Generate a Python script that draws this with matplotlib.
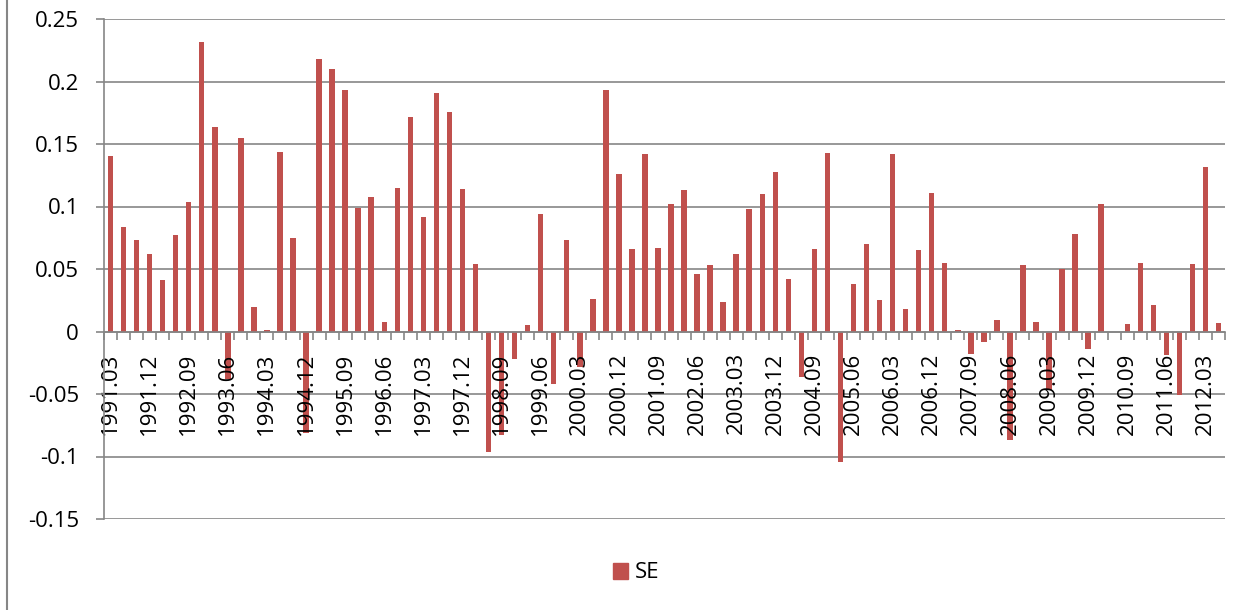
import matplotlib
matplotlib.use("Agg")
import matplotlib.pyplot as plt
import matplotlib.patches as mpatches
from matplotlib.lines import Line2D
import numpy as np

plt.rcParams["font.family"] = ["Open Sans", "DejaVu Sans"]

# quarterly periods 1991.03 .. 2012.06
years = list(range(1991, 2013))
months = ["03", "06", "09", "12"]
periods = [f"{y}.{m}" for y in years for m in months][:86]

se = [
    0.140, 0.084, 0.073, 0.062,    # 1991
    0.041, 0.077, 0.104, 0.232,    # 1992
    0.164, -0.038, 0.155, 0.020,   # 1993
    0.001, 0.144, 0.075, -0.081,   # 1994
    0.218, 0.210, 0.193, 0.099,    # 1995
    0.108, 0.008, 0.115, 0.172,    # 1996
    0.092, 0.191, 0.176, 0.114,    # 1997
    0.054, -0.096, -0.083, -0.022, # 1998
    0.005, 0.094, -0.042, 0.073,   # 1999
    -0.028, 0.026, 0.193, 0.126,   # 2000
    0.066, 0.142, 0.067, 0.102,    # 2001
    0.113, 0.046, 0.053, 0.024,    # 2002
    0.062, 0.098, 0.110, 0.128,    # 2003
    0.042, -0.036, 0.066, 0.143,   # 2004
    -0.104, 0.038, 0.070, 0.025,   # 2005
    0.142, 0.018, 0.065, 0.111,    # 2006
    0.055, 0.001, -0.018, -0.008,  # 2007
    0.009, -0.087, 0.053, 0.008,   # 2008
    -0.047, 0.050, 0.078, -0.014,  # 2009
    0.102, 0.000, 0.006, 0.055,    # 2010
    0.021, -0.019, -0.051, 0.054,  # 2011
    0.132, 0.007,                  # 2012
]

y_ticks = [-0.15, -0.1, -0.05, 0, 0.05, 0.1, 0.15, 0.2, 0.25]
y_labels = ["-0.15", "-0.1", "-0.05", "0", "0.05", "0.1", "0.15", "0.2", "0.25"]

BAR = "#C0504D"
GRID = "#868686"

W, H = 1252, 610
fig = plt.figure(figsize=(W / 100, H / 100), dpi=100)
fig.patch.set_facecolor("white")
ax = fig.add_axes([104 / W, 1 - 519 / H, (1225 - 104) / W, (519 - 19) / H])

x = np.arange(len(se))
ax.bar(x, se, width=0.42, color=BAR, zorder=1)

# gridlines behind bars
for v in y_ticks:
    ax.axhline(v, color=GRID, linewidth=1.2, zorder=0.5)

ax.set_xlim(-0.5, len(se) - 0.5)
ax.set_ylim(-0.15, 0.25)

ax.set_yticks(y_ticks)
ax.set_yticklabels(y_labels)
ax.tick_params(axis="y", length=6, width=1.2, color=GRID, pad=12, labelsize=16)

# category axis sits on zero
ax.spines["bottom"].set_position(("data", 0))
ax.spines["bottom"].set_color(GRID)
ax.spines["bottom"].set_linewidth(1.2)
ax.spines["left"].set_color(GRID)
ax.spines["left"].set_linewidth(1.2)
ax.spines["top"].set_visible(False)
ax.spines["right"].set_visible(False)

ax.set_xticks(x[::3])
ax.set_xticklabels(periods[::3], rotation=90, va="top", ha="center")
ax.set_xticks(np.arange(-0.5, len(se)), minor=True)
ax.tick_params(axis="x", which="major", length=0, pad=15, labelsize=16)
ax.tick_params(axis="x", which="minor", length=6, width=1.2, color=GRID)

# chart frame edge on the left
fig.add_artist(Line2D([7 / W, 7 / W], [0, 1], transform=fig.transFigure,
                      color=GRID, linewidth=1.5))

fig.legend(handles=[mpatches.Patch(color=BAR, label="SE")],
           loc="center", bbox_to_anchor=(636 / W, 1 - 573 / H),
           frameon=False, fontsize=16, handlelength=0.7, handleheight=0.7,
           handletextpad=0.3)

fig.savefig("out.png", dpi=100)
